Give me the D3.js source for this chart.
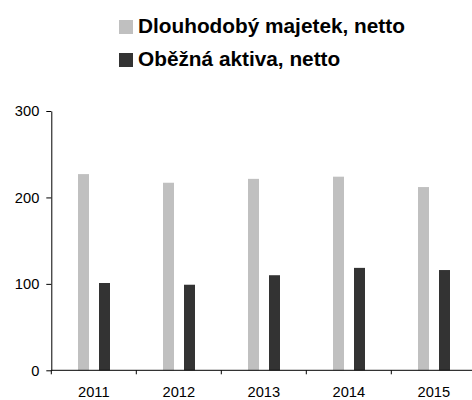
<!DOCTYPE html>
<html><head><meta charset="utf-8">
<script src="https://cdn.jsdelivr.net/npm/d3@7"></script>
<style>body{margin:0;background:#fff}svg{display:block}text{font-family:"Liberation Sans",Arial,sans-serif}</style>
</head><body><svg id="c" width="472" height="400"></svg>
<script>
const years = ["2011","2012","2013","2014","2015"];
const seriesNames = ["Dlouhodobý majetek, netto","Oběžná aktiva, netto"];
const fixedAssets = [227, 217, 221.5, 224, 212];
const currentAssets = [101, 99, 110, 118.5, 116];
const yTicks = [0,100,200,300];
const colors = ["#c0c0c0","#333333"];

const svg = d3.select("#c");
const x = d3.scaleBand().domain(years).range([51.3, 476.3]).paddingInner(0).paddingOuter(0);
const y = d3.scaleLinear().domain([0,300]).range([370.3, 111]);
const barW = 11, offs = [26.7, 47.7];

const data = [fixedAssets, currentAssets];
data.forEach((vals, si) => {
  svg.append("g").selectAll("rect").data(vals).join("rect")
    .attr("x", (d,i) => x(years[i]) + offs[si])
    .attr("width", barW)
    .attr("y", d => y(d))
    .attr("height", d => y(0) - y(d))
    .attr("fill", colors[si]);
});

// y axis
const ya = svg.append("g").attr("transform","translate(51.3,0)")
  .call(d3.axisLeft(y).tickValues(yTicks).tickSize(5).tickSizeOuter(0).tickPadding(7));
ya.select(".domain").attr("stroke","#000");
ya.selectAll("text").attr("font-size",14.67).attr("fill","#000");
// x axis
const xa = svg.append("g").attr("transform","translate(0,370.3)")
  .call(d3.axisBottom(x).tickSize(0).tickPadding(16));
xa.select(".domain").attr("d","M51.3,0H472");
xa.selectAll("text").attr("font-size",14.67).attr("fill","#000");
svg.append("g").attr("transform","translate(0,370.3)").selectAll("line")
  .data(years).join("line")
  .attr("x1", d => x(d)).attr("x2", d => x(d)).attr("y1",0).attr("y2",4)
  .attr("stroke","#000");

// legend
const lg = svg.append("g");
seriesNames.forEach((n,i) => {
  const yy = 20 + i*33;
  lg.append("rect").attr("x",119).attr("y",yy).attr("width",14).attr("height",14).attr("fill",colors[i]);
  lg.append("text").attr("x",138).attr("y",yy+12.5).attr("font-size",20.8).attr("font-weight","bold").attr("fill","#000").text(n);
});
</script></body></html>
